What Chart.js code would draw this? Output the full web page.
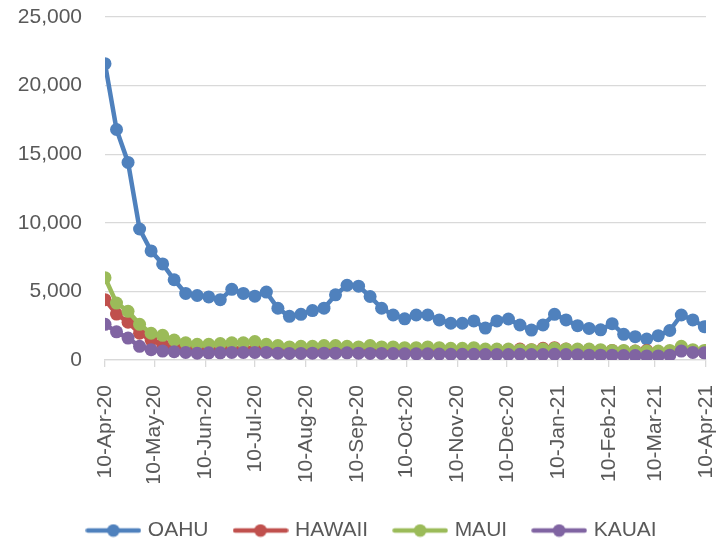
<!DOCTYPE html>
<html>
<head>
<meta charset="utf-8">
<script src="https://cdn.jsdelivr.net/npm/chart.js@4.4.1/dist/chart.umd.min.js"></script>
<style>
html,body{margin:0;padding:0;background:#fff;}
#wrap{width:717px;height:542px;position:relative;}
</style>
</head>
<body>
<div id="wrap"><canvas id="c" width="717" height="542"></canvas></div>
<script>
const dates = [
  '2020-04-10','2020-04-17','2020-04-24','2020-05-01','2020-05-08','2020-05-15','2020-05-22','2020-05-29',
  '2020-06-05','2020-06-12','2020-06-19','2020-06-26','2020-07-03','2020-07-10','2020-07-17','2020-07-24',
  '2020-07-31','2020-08-07','2020-08-14','2020-08-21','2020-08-28','2020-09-04','2020-09-11','2020-09-18',
  '2020-09-25','2020-10-02','2020-10-09','2020-10-16','2020-10-23','2020-10-30','2020-11-06','2020-11-13',
  '2020-11-20','2020-11-27','2020-12-04','2020-12-11','2020-12-18','2020-12-25','2021-01-01','2021-01-08',
  '2021-01-15','2021-01-22','2021-01-29','2021-02-05','2021-02-12','2021-02-19','2021-02-26','2021-03-05',
  '2021-03-12','2021-03-19','2021-03-26','2021-04-02','2021-04-09'
];
const oahu = [21600,16800,14400,9550,7950,7000,5850,4850,4700,4600,4400,5150,4850,4650,4950,3770,
  3180,3330,3600,3780,4750,5450,5380,4630,3770,3280,3000,3280,3280,2920,2680,2680,
  2850,2330,2850,2990,2550,2180,2550,3330,2920,2500,2300,2200,2650,1870,1700,1530,
  1770,2150,3280,2920,2430];
const hawaii = [4400,3350,2750,1950,1450,1150,950,850,800,750,750,800,800,800,750,700,
  650,650,700,700,700,700,650,700,650,650,650,650,650,650,650,650,
  700,700,750,750,800,750,850,900,800,750,750,700,700,650,650,700,
  600,600,850,600,550];
const maui = [6000,4150,3550,2600,1950,1800,1450,1250,1150,1150,1200,1250,1250,1350,1150,1050,
  950,1000,1000,1050,1050,1000,950,1050,950,950,900,900,950,900,850,850,
  900,800,800,800,750,750,800,850,800,800,800,750,700,700,650,650,
  650,700,1000,750,700];
const kauai = [2600,2050,1600,1000,750,650,600,550,500,520,520,550,550,550,550,500,
  480,480,500,500,500,520,500,480,480,470,450,450,450,430,420,420,
  420,400,400,400,420,400,400,420,400,380,350,350,350,330,320,300,
  300,350,650,550,520];
const tickDates = ['2020-04-10','2020-05-10','2020-06-10','2020-07-10','2020-08-10','2020-09-10',
  '2020-10-10','2020-11-10','2020-12-10','2021-01-10','2021-02-10','2021-03-10','2021-04-10'];
const tickLabels = ['10-Apr-20','10-May-20','10-Jun-20','10-Jul-20','10-Aug-20','10-Sep-20',
  '10-Oct-20','10-Nov-20','10-Dec-20','10-Jan-21','10-Feb-21','10-Mar-21','10-Apr-21'];
const seriesNames = ['OAHU','HAWAII','MAUI','KAUAI'];
const seriesColors = ['#4f81bd','#c0504d','#9bbb59','#8064a2'];

const DAY = 86400000;
const base = Date.parse(dates[0] + 'T00:00:00Z');
const toDay = s => Math.round((Date.parse(s + 'T00:00:00Z') - base) / DAY);
const xDays = dates.map(toDay);
const tickDays = tickDates.map(toDay);

function legendMarker(color){
  const c = document.createElement('canvas');
  c.width = 56; c.height = 14;
  const g = c.getContext('2d');
  g.strokeStyle = color; g.lineWidth = 4.5; g.lineCap = 'round';
  g.beginPath(); g.moveTo(2.5, 7); g.lineTo(53.5, 7); g.stroke();
  g.fillStyle = color; g.beginPath(); g.arc(28, 7, 6.3, 0, Math.PI*2); g.fill();
  return c;
}
const markers = seriesColors.map(legendMarker);

const allSeries = [oahu, hawaii, maui, kauai];
const datasets = allSeries.map((arr, k) => ({
  label: seriesNames[k],
  data: arr.map((v, i) => ({x: xDays[i], y: v})),
  borderColor: seriesColors[k],
  backgroundColor: seriesColors[k],
  pointBackgroundColor: seriesColors[k],
  pointBorderColor: seriesColors[k],
  borderWidth: 4.5,
  pointRadius: 6.5,
  pointBorderWidth: 0,
  tension: 0,
  order: 3 - k
}));

const FONT = "'Liberation Sans', Arial, sans-serif";
const TXT = '#595959';

const legendShift = {
  id: 'legendShift',
  afterLayout(chart) {
    const lg = chart.legend;
    if (!lg) return;
    lg.left += 11; lg.right += 11;
    lg.top += 9; lg.bottom += 9;
  }
};

new Chart(document.getElementById('c'), {
  type: 'line',
  data: {datasets},
  plugins: [legendShift],
  options: {
    responsive: false,
    animation: false,
    devicePixelRatio: 1,
    layout: {padding: {left: 18, top: 17, right: 11, bottom: 0}},
    plugins: {
      tooltip: {enabled: false},
      legend: {
        position: 'bottom',
        labels: {
          font: {family: FONT, size: 21},
          color: TXT,
          usePointStyle: true,
          pointStyleWidth: 48,
          boxHeight: 14,
          padding: 28,
          sort: (a, b) => a.datasetIndex - b.datasetIndex,
          generateLabels: (chart) => chart.data.datasets.map((ds, i) => ({
            text: ds.label,
            fillStyle: ds.borderColor,
            strokeStyle: ds.borderColor,
            lineWidth: 0,
            pointStyle: markers[i],
            fontColor: TXT,
            hidden: false,
            datasetIndex: i
          }))
        }
      }
    },
    scales: {
      x: {
        type: 'linear',
        min: tickDays[0],
        max: tickDays[tickDays.length - 1],
        afterBuildTicks: (s) => { s.ticks = tickDays.map(v => ({value: v})); },
        afterFit: (s) => { s.height = 123; s.paddingLeft = 0; s.paddingRight = 0; },
        ticks: {
          autoSkip: false,
          minRotation: 90,
          maxRotation: 90,
          padding: 18,
          color: TXT,
          font: {family: FONT, size: 21},
          callback: (v, i) => tickLabels[i]
        },
        grid: {drawOnChartArea: false, drawTicks: true, tickLength: 7, color: '#d9d9d9', lineWidth: 1.3},
        border: {display: true, color: '#d9d9d9', width: 1.3}
      },
      y: {
        min: 0,
        max: 25000,
        afterFit: (s) => { s.width = 87; s.paddingTop = 0; s.paddingBottom = 0; },
        ticks: {
          stepSize: 5000,
          padding: 23,
          color: TXT,
          font: {family: FONT, size: 21},
          callback: (v) => v.toLocaleString('en-US')
        },
        grid: {color: '#d9d9d9', lineWidth: 1.3, drawTicks: false},
        border: {display: false}
      }
    }
  }
});
</script>
</body>
</html>
